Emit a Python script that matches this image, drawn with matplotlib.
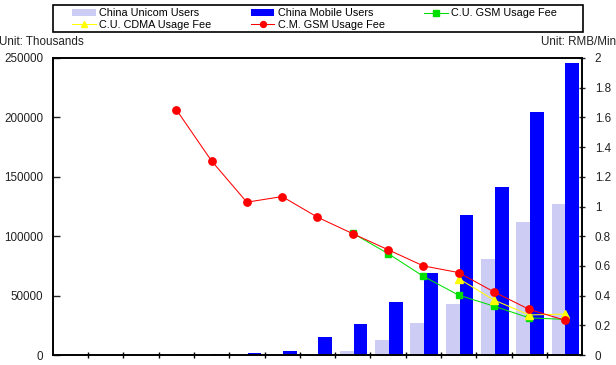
import numpy as np
import matplotlib
matplotlib.use("Agg")
from matplotlib import pyplot as plt
from matplotlib.patches import Rectangle

plt.rcParams['font.family'] = ['Liberation Sans', 'DejaVu Sans']

nan = np.nan

# categories (years, not labelled on the chart)
years = [1990, 1991, 1992, 1993, 1994, 1995, 1996, 1997,
         1998, 1999, 2000, 2001, 2002, 2003, 2004]

# users, thousands (left axis)
unicom_users = [0, 0, 0, 0, 0, 0, 0, 0,
                3400, 12600, 26700, 42900, 80500, 112000, 127000]
mobile_users = [0, 0, 0, 800, 1000, 2000, 3500, 14900,
                25900, 44900, 69300, 117800, 141000, 204500, 246000]

# usage fee, RMB/Min (right axis)
cu_gsm_fee = [nan, nan, nan, nan, nan, nan, nan, nan,
              0.82, 0.683, 0.53, 0.403, 0.329, 0.25, 0.24]
cu_cdma_fee = [nan, nan, nan, nan, nan, nan, nan, nan,
               nan, nan, nan, 0.515, 0.37, 0.27, 0.275]
cm_gsm_fee = [nan, nan, nan, 1.653, 1.307, 1.029, 1.067, 0.928,
              0.817, 0.709, 0.60, 0.555, 0.425, 0.307, 0.235]

left_ticks = [0, 50000, 100000, 150000, 200000, 250000]
right_ticks = [0, 0.2, 0.4, 0.6, 0.8, 1, 1.2, 1.4, 1.6, 1.8, 2]
right_labels = ['0', '0.2', '0.4', '0.6', '0.8', '1', '1.2', '1.4', '1.6', '1.8', '2']

W, H = 616, 365
fig = plt.figure(figsize=(W / 100, H / 100), dpi=100)
ax = fig.add_axes([52.7 / W, 10 / H, 529.5 / W, 297 / H])

x = np.arange(len(years))
b1 = ax.bar(x - 0.17, unicom_users, 0.39, color='#CCCCF5', label='China Unicom Users')
b2 = ax.bar(x + 0.22, mobile_users, 0.39, color='#0000FF', label='China Mobile Users')

ax.set_xlim(-0.5, len(years) - 0.5)
ax.set_ylim(0, 250000)
ax.set_xticks(x[:-1] + 0.5)
ax.set_xticklabels([])
ax.tick_params(axis='x', direction='inout', length=5, width=1)
ax.set_yticks(left_ticks)
ax.set_yticklabels([str(v) for v in left_ticks])
ax.tick_params(axis='y', direction='in', length=5, width=1, pad=7, labelsize=8.4,
               colors='#222222')
for s in ax.spines.values():
    s.set_linewidth(1.2)

ax2 = ax.twinx()
l1, = ax2.plot(x, cu_gsm_fee, color='#00E000', lw=0.75, marker='s', ms=5,
               label='C.U. GSM Usage Fee')
l2, = ax2.plot(x, cu_cdma_fee, color='#FFFF00', lw=0.75, marker='^', ms=5.5,
               label='C.U. CDMA Usage Fee')
l3, = ax2.plot(x, cm_gsm_fee, color='#FF0000', lw=0.75, marker='o', ms=5.3,
               label='C.M. GSM Usage Fee')
ax2.set_ylim(0, 2)
ax2.set_yticks(right_ticks)
ax2.set_yticklabels(right_labels)
ax2.tick_params(axis='y', direction='inout', length=5, width=1, pad=6.5, labelsize=8.4,
                colors='#222222')
for s in ax2.spines.values():
    s.set_linewidth(1.2)

# legend: ncol=3 fills columns first, so reorder
handles = [b1, l2, b2, l3, l1]
labels = [h.get_label() for h in handles]
leg = fig.legend(handles, labels, loc='upper left', ncol=3, mode='expand',
                 bbox_to_anchor=(72 / W, 0, 485 / W, 1 - 8.5 / H),
                 fontsize=7.8, frameon=False, markerscale=0.8,
                 handlelength=2.2, handleheight=0.6, handletextpad=0.3,
                 labelspacing=0.12, borderpad=0, borderaxespad=0)
fig.patches.append(Rectangle((52.7 / W, 1 - 32 / H), 530.3 / W, 27 / H,
                             transform=fig.transFigure, fill=False,
                             edgecolor='black', linewidth=1.2))

fig.text(-1 / W, 1 - 42 / H, 'Unit: Thousands', fontsize=8.4, va='center', ha='left',
         color='#222222')
fig.text(541 / W, 1 - 42 / H, 'Unit: RMB/Min', fontsize=8.4, va='center', ha='left',
         color='#222222')

fig.savefig('out.png', dpi=100)
